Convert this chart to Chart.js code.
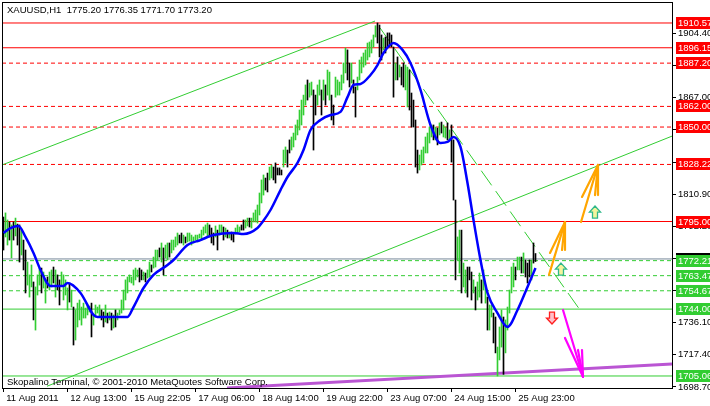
<!DOCTYPE html>
<html>
<head>
<meta charset="utf-8">
<title>XAUUSD H1</title>
<script src="https://cdn.jsdelivr.net/npm/chart.js@4"></script>
<style>
  html, body { margin: 0; padding: 0; background: #ffffff; }
  #wrap { width: 710px; height: 406px; }
</style>
</head>
<body>
<div id="wrap"><canvas id="goldChart" width="710" height="406"></canvas></div>
<script>
const titleText = "XAUUSD,H1  1775.20 1776.35 1771.70 1773.20";
const footerText = "Skopalino Terminal, \u00a9 2001-2010 MetaQuotes Software Corp.";

// hourly bars, one value per bar
const barHigh = [
  1797.6,1800.0,1795.9,1794.7,1793.0,1794.7,1797.0,1793.5,1793.0,1790.0,
  1784.2,1778.4,1771.4,1763.9,1769.7,1759.8,1756.9,1763.9,1767.9,1767.9,
  1765.6,1761.0,1762.7,1765.6,1766.8,1768.5,1766.8,1763.9,1761.0,1765.6,
  1763.9,1761.0,1756.3,1759.2,1755.1,1745.2,1743.5,1747.5,1749.3,1745.2,
  1747.5,1744.6,1746.4,1745.8,1747.5,1740.6,1746.4,1745.2,1746.4,1743.5,
  1742.3,1746.4,1741.7,1742.3,1741.7,1740.6,1743.5,1741.7,1743.5,1749.3,
  1755.1,1761.0,1762.7,1763.9,1762.7,1766.8,1767.9,1766.8,1767.9,1766.8,
  1765.6,1765.0,1766.8,1771.4,1769.7,1774.3,1778.4,1778.4,1779.6,1782.5,
  1779.6,1781.3,1782.5,1782.5,1784.2,1784.2,1786.0,1788.3,1787.1,1788.3,
  1787.1,1786.0,1788.3,1788.3,1787.1,1786.0,1787.1,1787.1,1787.7,1790.0,
  1791.8,1793.0,1794.1,1793.0,1791.2,1788.3,1792.4,1790.0,1793.0,1793.0,
  1791.8,1791.2,1790.0,1788.9,1788.9,1787.7,1791.2,1793.0,1791.8,1793.0,
  1795.9,1795.9,1797.0,1797.0,1797.0,1800.0,1801.7,1804.6,1811.6,1819.2,
  1822.1,1820.3,1823.2,1826.7,1827.9,1826.7,1829.1,1826.2,1826.2,1825.0,
  1836.6,1838.4,1836.6,1842.5,1844.2,1846.5,1851.2,1854.1,1859.9,1865.7,
  1868.6,1874.5,1877.4,1875.6,1876.2,1871.6,1868.6,1874.5,1877.4,1871.6,
  1877.4,1874.5,1883.2,1882.0,1868.6,1862.8,1879.1,1877.4,1876.2,1880.3,
  1887.3,1896.0,1894.9,1887.3,1887.3,1877.4,1873.3,1879.1,1889.0,1890.8,
  1893.1,1894.9,1898.9,1899.5,1900.7,1903.6,1909.0,1910.6,1909.4,1903.6,
  1901.8,1902.4,1904.8,1904.8,1903.6,1896.6,1887.3,1890.8,1886.1,1884.9,
  1887.3,1886.1,1884.9,1883.2,1869.8,1865.7,1854.1,1836.6,1833.7,1836.6,
  1838.4,1844.2,1846.5,1850.0,1851.2,1851.2,1850.0,1849.4,1852.4,1852.9,
  1851.2,1850.0,1852.4,1848.3,1851.2,1842.5,1807.5,1786.0,1790.0,1790.0,
  1770.8,1766.8,1768.5,1768.5,1765.6,1761.0,1756.9,1759.8,1765.0,1761.0,
  1766.8,1758.0,1751.0,1746.4,1746.4,1741.7,1739.4,1721.9,1733.6,1743.5,
  1739.4,1737.7,1745.2,1755.1,1768.5,1770.8,1768.5,1774.3,1774.3,1774.3,
  1776.7,1772.6,1770.8,1772.6,1772.6,1782.5,1776.35
];
const barLow = [
  1778.4,1786.0,1781.3,1784.2,1773.8,1784.2,1786.6,1781.3,1771.4,1775.5,
  1766.8,1753.4,1758.0,1751.0,1756.9,1737.7,1731.8,1752.2,1758.0,1753.4,
  1756.3,1747.5,1756.3,1755.1,1756.9,1759.2,1751.0,1755.1,1746.4,1758.0,
  1749.3,1752.2,1743.5,1748.1,1745.2,1723.1,1726.0,1733.6,1737.7,1734.7,
  1738.8,1738.8,1740.6,1742.3,1727.8,1734.7,1739.4,1741.7,1739.4,1737.7,
  1733.6,1736.5,1735.9,1737.7,1731.8,1733.0,1733.6,1737.7,1740.6,1741.7,
  1743.5,1749.3,1753.4,1759.8,1759.2,1758.0,1761.0,1762.7,1759.8,1761.0,
  1761.0,1759.8,1762.1,1762.7,1765.6,1767.9,1768.5,1772.6,1774.3,1771.4,
  1763.9,1773.8,1772.6,1774.3,1776.7,1778.4,1780.2,1781.3,1782.5,1782.5,
  1781.3,1782.5,1783.1,1783.6,1781.3,1782.5,1784.2,1783.1,1785.4,1784.2,
  1787.1,1788.3,1786.0,1786.0,1782.5,1781.3,1786.0,1778.4,1787.1,1788.3,
  1784.2,1786.0,1785.4,1785.4,1784.2,1783.1,1787.7,1788.3,1788.9,1790.0,
  1790.0,1791.2,1792.4,1791.8,1791.2,1794.7,1794.7,1794.1,1798.8,1805.8,
  1810.4,1813.3,1812.2,1819.2,1820.3,1819.2,1817.4,1822.1,1822.1,1822.1,
  1826.7,1829.1,1826.7,1834.9,1836.6,1838.4,1842.5,1845.4,1848.3,1851.2,
  1857.0,1862.8,1865.7,1867.4,1868.6,1836.6,1857.0,1862.8,1868.6,1857.0,
  1865.7,1862.8,1868.6,1865.7,1854.1,1851.2,1867.4,1868.6,1868.6,1871.6,
  1875.6,1881.5,1877.4,1873.3,1875.6,1869.8,1855.8,1871.6,1877.4,1881.5,
  1884.9,1886.1,1889.0,1890.8,1893.1,1896.6,1902.4,1898.9,1890.8,1889.0,
  1894.9,1893.1,1896.0,1896.6,1896.6,1867.4,1877.4,1877.4,1879.1,1874.5,
  1873.3,1871.6,1861.7,1859.9,1850.0,1850.0,1826.7,1823.2,1825.0,1827.9,
  1829.1,1834.9,1834.9,1840.7,1844.2,1842.5,1842.5,1839.6,1845.4,1846.5,
  1844.2,1843.6,1842.5,1842.5,1829.6,1807.5,1761.0,1772.6,1765.0,1753.4,
  1756.9,1753.4,1751.0,1761.0,1749.3,1753.4,1743.5,1749.3,1751.0,1747.5,
  1755.1,1747.5,1731.8,1731.8,1739.4,1724.3,1718.5,1705.06,1714.4,1721.9,
  1706.0,1718.5,1731.8,1741.7,1753.4,1756.9,1761.0,1766.8,1766.8,1765.0,
  1765.0,1762.7,1759.2,1762.7,1761.0,1770.8,1771.7
];
// 1 = bull bar (green), 0 = bear bar (black)
const barUp = [
  0,1,1,0,1,0,1,0,0,1,0,0,1,1,1,0,1,1,1,0,
  1,1,0,1,1,0,1,0,0,1,1,1,1,0,1,0,1,1,1,1,
  1,1,1,1,0,1,1,1,1,0,0,1,0,1,0,1,0,1,1,1,
  1,1,1,1,1,1,1,1,0,0,1,0,1,1,0,1,1,1,0,1,
  0,1,1,0,1,1,1,1,0,0,1,0,1,1,1,1,1,1,1,1,
  1,1,1,0,0,0,1,0,1,1,0,1,0,1,0,0,1,1,1,0,
  0,1,1,0,1,1,1,1,1,1,1,0,0,1,1,0,0,0,0,0,
  1,1,0,0,1,1,1,1,1,1,1,1,0,1,1,0,0,1,1,0,
  1,0,1,1,0,0,1,1,1,1,1,1,0,0,1,0,0,1,1,1,
  1,1,1,1,1,1,1,0,0,0,1,0,0,0,0,0,1,0,1,0,
  0,1,1,0,0,0,0,0,1,1,1,1,1,1,1,0,1,0,1,0,
  1,1,0,1,0,0,0,1,1,0,1,1,0,0,0,1,0,1,1,0,
  1,1,0,1,1,0,0,1,1,1,0,1,1,1,1,1,0,1,1,0,
  1,0,0,0,1,0,0
];

// moving average (bar index, price)
const maIndex = [0,3.5,7.5,11,15,18.5,23.5,30,32,38.5,45,47,62,65,70,75,82,85,92,98.5,
  105,115,120,127,129.5,133.5,138.5,142,147,150,153.5,158.5,163.5,168.5,172,175,178.5,183.5,187,190,
  195,199.5,203.5,208.5,213.5,218.5,222,225,228.5,232,235,238.5,242,247,252,257,262,266];
const maValue = [1788.3,1791.2,1792.4,1786.0,1776.7,1766.8,1757.5,1757.5,1759.2,1753.4,1740.6,1739.4,1739.4,1745.2,1756.3,1763.9,1769.7,1772.6,1781.3,1784.2,
  1787.1,1788.3,1787.7,1791.2,1794.7,1801.7,1813.3,1820.9,1829.1,1836.6,1848.3,1854.1,1857.0,1858.8,1867.4,1874.5,1875.1,1880.3,1886.1,1893.1,
  1898.9,1894.9,1887.3,1871.6,1851.2,1840.7,1841.3,1844.2,1838.4,1817.4,1795.9,1772.6,1753.4,1741.7,1733.6,1743.5,1756.9,1767.9];

const timeLabels = ["11 Aug 2011", "12 Aug 13:00", "15 Aug 22:05", "17 Aug 06:00", "18 Aug 14:00",
  "19 Aug 22:00", "23 Aug 07:00", "24 Aug 15:00", "25 Aug 23:00"];
const timeLabelIndex = [0, 32, 64, 96, 128, 160, 192, 224, 256];
const priceTicks = [1698.70, 1717.40, 1736.10, 1754.80, 1773.50, 1792.20, 1810.90, 1829.60, 1848.30, 1867.00, 1885.70, 1904.40];

const redSolidLevels = [1910.57, 1896.15, 1795.00];
const redDashLevels = [1887.20, 1862.00, 1850.00, 1828.22];
const greenDashLevels = [1772.21, 1763.47, 1754.67];
const greenSolidLevels = [1744.00, 1705.06];
const bidPrice = 1773.20;

// trend lines (bar index, price)
const channelUpper = [[-0.75, 1827.9], [185.75, 1911.7]];
const channelLower = [[21.75, 1699.1], [334.25, 1844.7]];
const fallLine = [[188.25, 1907.7], [288.25, 1743.5]];
const purpleLine = [[111.75, 1698.1], [334.25, 1712.0]];

// drawn arrows: tip then the ends of the strokes
const orangeArrows = [
  [[280.75, 1794.7], [272.75, 1763.9], [273.25, 1776.7], [279.25, 1778.4], [280.75, 1778.4]],
  [[297.25, 1827.9], [288.75, 1794.7], [289.25, 1809.3], [295.75, 1810.4], [297.25, 1810.4]]
];
const magentaArrows = [
  [[289.75, 1704.6], [279.75, 1743.5], [280.75, 1727.2], [287.25, 1720.2], [289.25, 1720.2]]
];
const upSigns = [[295.75, 1800.5], [278.75, 1767.3]];
const downSigns = [[274.25, 1738.8]];

const xMin = -0.75, xMax = 334.25;
const yMin = 1698.07, yMax = 1922.21;
const FONT = "Liberation Sans";

function pts(list) {
    return list.map(p => ({ x: p[0], y: p[1] }));
}
function levelSet(levels, color, dash) {
    return levels.map(v => ({
        type: "line",
        data: [{ x: xMin, y: v }, { x: xMax, y: v }],
        borderColor: color,
        borderWidth: 1,
        borderDash: dash,
        pointRadius: 0,
        order: 5
    }));
}
function trendSet(list, color, width, dash) {
    return {
        type: "line",
        data: pts(list),
        borderColor: color,
        borderWidth: width,
        borderDash: dash,
        pointRadius: 0,
        order: 4
    };
}

const overlay = {
    id: "overlay",
    afterDraw(chart) {
        const ctx = chart.ctx;
        const xs = chart.scales.x, ys = chart.scales.y;
        const ca = chart.chartArea;
        const px = v => xs.getPixelForValue(v);
        const py = v => ys.getPixelForValue(v);

        ctx.save();
        ctx.beginPath();
        ctx.rect(ca.left, ca.top, ca.right - ca.left, ca.bottom - ca.top);
        ctx.clip();

        // fan arrows
        ctx.lineCap = "round";
        const fan = (list, color, width) => {
            ctx.strokeStyle = color;
            ctx.lineWidth = width;
            list.forEach(a => {
                const tip = a[0];
                a.slice(1).forEach(e => {
                    ctx.beginPath();
                    ctx.moveTo(px(tip[0]), py(tip[1]));
                    ctx.lineTo(px(e[0]), py(e[1]));
                    ctx.stroke();
                });
            });
        };
        fan(orangeArrows, "#ffa500", 2.2);
        fan(magentaArrows, "#ff00ff", 2.2);

        // hollow arrow signs
        const sign = (x, y, dir, stroke, fill) => {
            const s = dir;
            ctx.beginPath();
            ctx.moveTo(x, y - 6 * s);
            ctx.lineTo(x + 5.5, y);
            ctx.lineTo(x + 2.5, y);
            ctx.lineTo(x + 2.5, y + 6 * s);
            ctx.lineTo(x - 2.5, y + 6 * s);
            ctx.lineTo(x - 2.5, y);
            ctx.lineTo(x - 5.5, y);
            ctx.closePath();
            ctx.fillStyle = fill;
            ctx.fill();
            ctx.strokeStyle = stroke;
            ctx.lineWidth = 1.3;
            ctx.stroke();
        };
        upSigns.forEach(p => sign(px(p[0]), py(p[1]), 1, "#2eb88a", "#f4f49c"));
        downSigns.forEach(p => sign(px(p[0]), py(p[1]), -1, "#ff2020", "#ffc0cb"));
        ctx.restore();

        // frame
        ctx.save();
        ctx.strokeStyle = "#000000";
        ctx.lineWidth = 1;
        ctx.strokeRect(ca.left + 0.5, ca.top - 0.5, ca.right - ca.left, ca.bottom - ca.top + 1);

        // texts
        ctx.fillStyle = "#000000";
        ctx.font = "9.5px " + FONT;
        ctx.textBaseline = "middle";
        ctx.textAlign = "left";
        ctx.fillText(titleText, 7, 10);
        ctx.fillText(footerText, 7, 382);

        // price labels on the right scale
        const box = (v, bg) => {
            const y = Math.round(py(v));
            ctx.fillStyle = bg;
            ctx.fillRect(ca.right + 4, y - 6, 40, 12);
            ctx.fillStyle = "#ffffff";
            ctx.fillText(v.toFixed(2), ca.right + 6, y + 0.5);
        };
        box(bidPrice, "#000000");
        redSolidLevels.concat(redDashLevels).forEach(v => box(v, "#ff0000"));
        greenDashLevels.concat(greenSolidLevels).forEach(v => box(v, "#32cd32"));
        ctx.restore();
    }
};

document.addEventListener("DOMContentLoaded", function () {
    const bars = barHigh.map((h, i) => ({ x: i, y: [barLow[i], h] }));
    const barColors = barUp.map(u => (u ? "#32cd32" : "#000000"));
    const ma = maIndex.map((x, i) => ({ x: x, y: maValue[i] }));

    const datasets = [
        {
            type: "bar",
            label: "XAUUSD",
            data: bars,
            backgroundColor: barColors,
            barThickness: 1,
            grouped: false,
            order: 3
        },
        {
            type: "line",
            label: "MA",
            data: ma,
            borderColor: "#0000ff",
            borderWidth: 2.5,
            pointRadius: 0,
            cubicInterpolationMode: "monotone",
            order: 1
        },
        {
            type: "line",
            data: [{ x: xMin, y: bidPrice }, { x: xMax, y: bidPrice }],
            borderColor: "#778899",
            borderWidth: 1,
            pointRadius: 0,
            order: 5
        },
        trendSet(channelUpper, "#32cd32", 1, []),
        trendSet(channelLower, "#32cd32", 1, []),
        trendSet(fallLine, "#32cd32", 1, [18, 7]),
        trendSet(purpleLine, "#ba55d3", 3, []),
        ...levelSet(redSolidLevels, "#ff0000", []),
        ...levelSet(redDashLevels, "#ff0000", [4, 3]),
        ...levelSet(greenDashLevels, "#32cd32", [4, 3]),
        ...levelSet(greenSolidLevels, "#32cd32", [])
    ];

    new Chart(document.getElementById("goldChart"), {
        type: "bar",
        data: { datasets: datasets },
        options: {
            responsive: false,
            animation: false,
            devicePixelRatio: 1,
            layout: { padding: { left: 2, top: 3, right: 0, bottom: 0 } },
            plugins: {
                legend: { display: false },
                tooltip: { enabled: false }
            },
            font: { family: FONT },
            scales: {
                x: {
                    type: "linear",
                    min: xMin,
                    max: xMax,
                    offset: false,
                    grid: { display: true, offset: false, drawOnChartArea: false, drawTicks: true, tickLength: 4, color: "#000000" },
                    border: { display: false },
                    afterBuildTicks: axis => { axis.ticks = timeLabelIndex.map(v => ({ value: v })); },
                    afterFit: axis => {
                        axis.height = 18;
                        axis.paddingLeft = 0;
                        axis.paddingRight = 0;
                    },
                    ticks: {
                        autoSkip: false,
                        maxRotation: 0,
                        align: "start",
                        padding: 1,
                        color: "#000000",
                        font: { family: FONT, size: 9.5 },
                        callback: v => " " + timeLabels[timeLabelIndex.indexOf(v)]
                    }
                },
                y: {
                    type: "linear",
                    position: "right",
                    min: yMin,
                    max: yMax,
                    grid: { display: true, drawOnChartArea: false, drawTicks: true, tickLength: 4, color: "#000000" },
                    border: { display: false },
                    afterBuildTicks: axis => { axis.ticks = priceTicks.map(v => ({ value: v })); },
                    afterFit: axis => {
                        axis.width = 38;
                        axis.paddingTop = 0;
                        axis.paddingBottom = 0;
                    },
                    ticks: {
                        padding: 2,
                        color: "#000000",
                        font: { family: FONT, size: 9.5 },
                        callback: v => v.toFixed(2)
                    }
                }
            }
        },
        plugins: [overlay]
    });
});
</script>
</body>
</html>
